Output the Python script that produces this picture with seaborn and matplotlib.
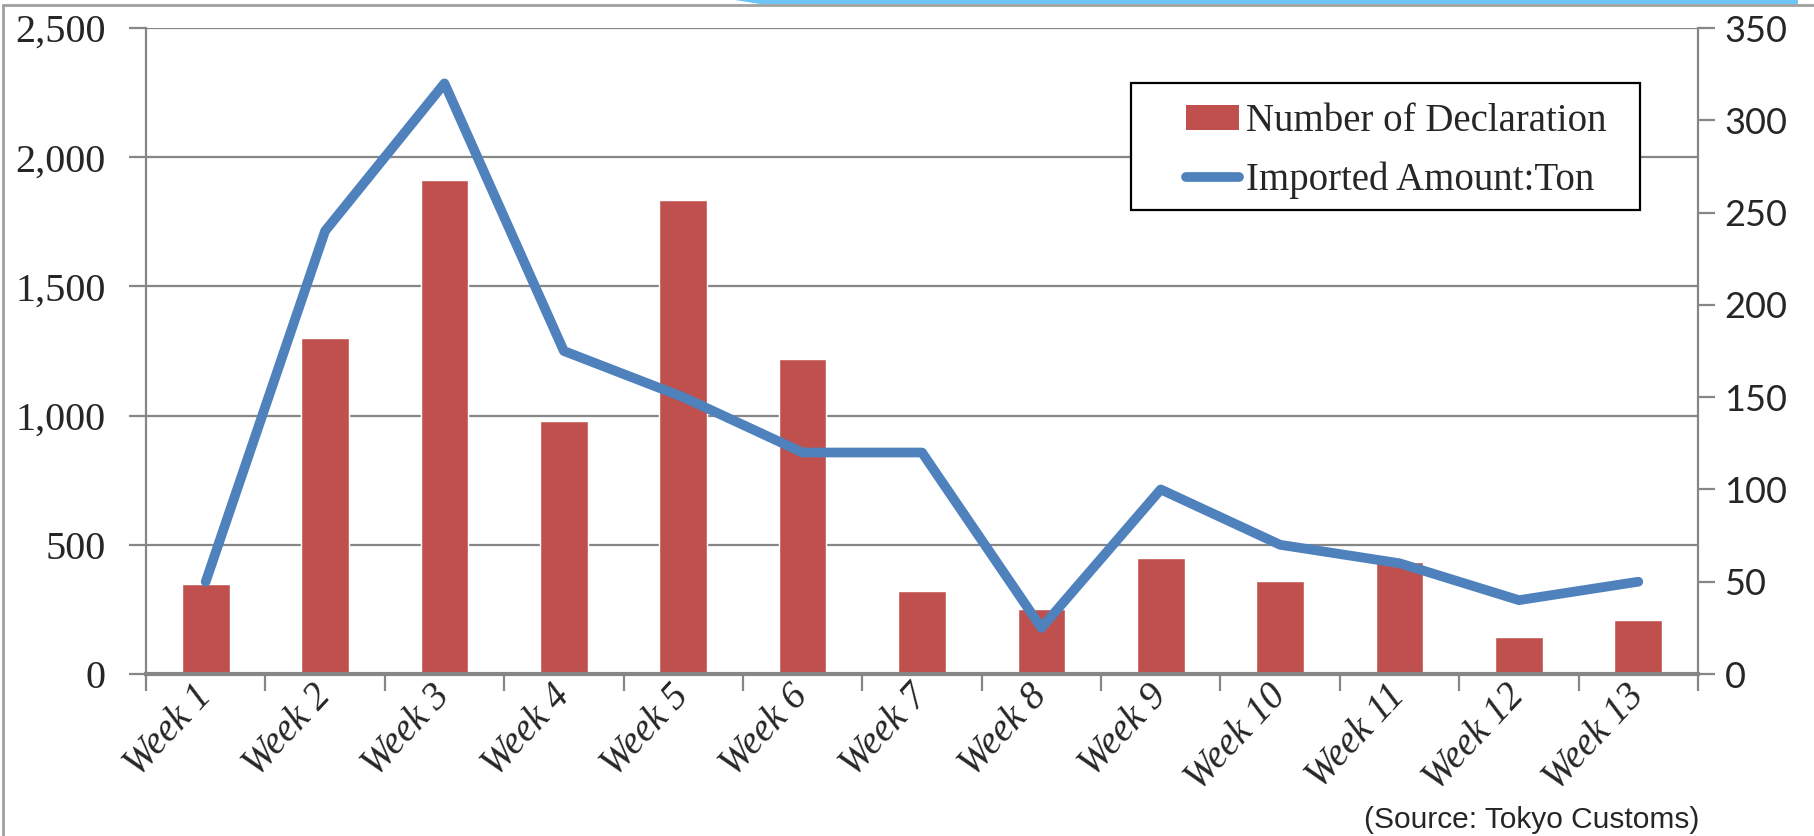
import matplotlib
matplotlib.use("Agg")
import matplotlib.pyplot as plt
from matplotlib.lines import Line2D
from matplotlib.patches import Patch, Polygon, Rectangle
import pandas as pd
import seaborn as sns

# data
weeks = ["Week 1", "Week 2", "Week 3", "Week 4", "Week 5", "Week 6", "Week 7",
         "Week 8", "Week 9", "Week 10", "Week 11", "Week 12", "Week 13"]
declarations = [350, 1300, 1910, 980, 1835, 1220, 320, 250, 450, 360, 435, 145, 210]
imported_tons = [50, 240, 320, 175, 150, 120, 120, 25, 100, 70, 60, 40, 50]
left_ticks = [0, 500, 1000, 1500, 2000, 2500]
right_ticks = [0, 50, 100, 150, 200, 250, 300, 350]

df = pd.DataFrame({"week": weeks, "decl": declarations, "tons": imported_tons})

sns.set_style("white")
plt.rcParams["font.family"] = ["Liberation Serif", "DejaVu Serif"]

bar_col = "#C0504D"
line_col = "#4F81BD"
grid_col = "#868686"

W, H = 1815, 836
fig = plt.figure(figsize=(W / 100, H / 100), dpi=100)
ax = fig.add_axes([146 / W, 1 - 674 / H, (1698 - 146) / W, (674 - 28) / H])

sns.barplot(data=df, x="week", y="decl", color=bar_col, width=0.4,
            saturation=1, ax=ax, zorder=2)
ax.set_ylim(0, 2500)
ax.set_xlim(-0.5, len(weeks) - 0.5)
ax.set_yticks(left_ticks)
ax.set_yticklabels([f"{v:,}" for v in left_ticks], fontsize=29)
ax.yaxis.grid(True, color=grid_col, lw=1.6)
ax.set_axisbelow(True)
ax.set_xlabel("")
ax.set_ylabel("")

ax.set_xticks(range(len(weeks)))
ax.set_xticklabels(weeks, fontsize=28, style="italic", rotation=47,
                   ha="right", va="center", rotation_mode="anchor")
ax.set_xticks([i - 0.5 for i in range(len(weeks) + 1)], minor=True)
ax.tick_params(axis="x", which="major", length=0, pad=12)
ax.tick_params(axis="x", which="minor", length=12, width=1.6, color=grid_col,
               direction="out", bottom=True)
ax.tick_params(axis="y", length=12, width=1.6, color=grid_col, direction="out",
               left=True, pad=17)

for s in ["top", "right"]:
    ax.spines[s].set_visible(False)
ax.spines["left"].set_color(grid_col)
ax.spines["left"].set_linewidth(1.6)
ax.spines["bottom"].set_color(grid_col)
ax.spines["bottom"].set_linewidth(3)

ax2 = ax.twinx()
sns.lineplot(data=df, x="week", y="tons", color=line_col, lw=7, sort=False,
             solid_capstyle="round", solid_joinstyle="round", ax=ax2)
ax2.set_ylim(0, 350)
ax2.set_yticks(right_ticks)
ax2.set_yticklabels([str(v) for v in right_ticks], fontsize=26, family="Lato")
ax2.set_ylabel("")
ax2.tick_params(axis="y", length=12, width=1.6, color=grid_col, direction="out",
                right=True, pad=7)
for s in ["top", "left", "bottom"]:
    ax2.spines[s].set_visible(False)
ax2.spines["right"].set_color(grid_col)
ax2.spines["right"].set_linewidth(1.6)

# legend: box drawn separately so the padding can match
fig.add_artist(Rectangle((1131 / W, 1 - 210 / H), (1640 - 1131) / W,
                         (210 - 83) / H, transform=fig.transFigure,
                         facecolor="white", edgecolor="black", lw=1.6,
                         zorder=5))
handles = [Patch(facecolor=bar_col, edgecolor="none"),
           Line2D([0], [0], color=line_col, lw=7, solid_capstyle="round")]
leg = ax2.legend(handles, ["Number of Declaration", "Imported Amount:Ton"],
                 loc="center left", bbox_to_anchor=(1186 / W, 1 - 151 / H),
                 bbox_transform=fig.transFigure, fontsize=28, frameon=False,
                 handlelength=1.35, handleheight=0.6, handletextpad=0.2,
                 borderpad=0, labelspacing=0.55, borderaxespad=0)
leg.set_zorder(6)
fig.legends.append(leg)
ax2.get_legend().remove()

fig.text(1699 / W, 2 / H, "(Source: Tokyo Customs)", ha="right", va="bottom",
         fontsize=21.5, family="Liberation Sans")

# outer chart frame and decorative strip at the top
fig.add_artist(Line2D([3 / W, 1], [1 - 5 / H, 1 - 5 / H], color="#A0A0A0",
                      lw=2, transform=fig.transFigure))
fig.add_artist(Line2D([3 / W, 3 / W], [0, 1 - 5 / H], color="#A0A0A0",
                      lw=2, transform=fig.transFigure))
fig.add_artist(Polygon([[735 / W, 1], [1798 / W, 1], [1798 / W, 1 - 4 / H],
                        [760 / W, 1 - 4 / H]], closed=True,
                       facecolor="#6CC5F5", edgecolor="none",
                       transform=fig.transFigure))

fig.savefig("out.png", dpi=100)
